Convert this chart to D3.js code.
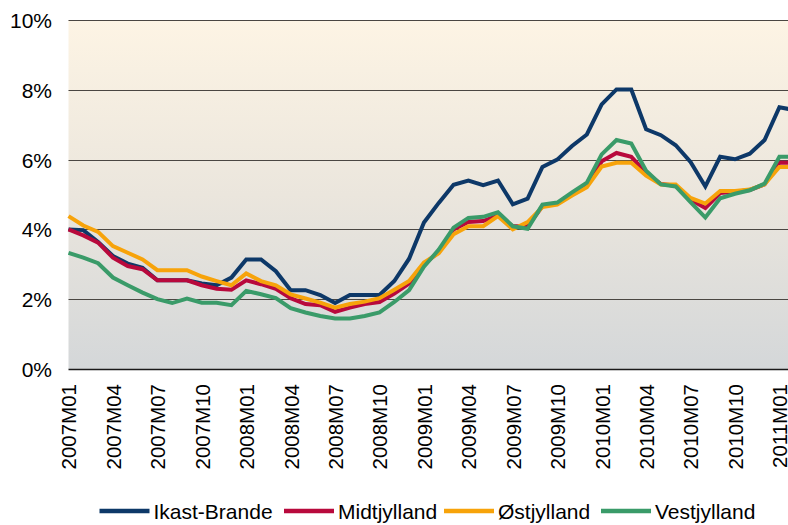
<!DOCTYPE html>
<html>
<head>
<meta charset="utf-8">
<script src="https://cdn.jsdelivr.net/npm/d3@7"></script>
<style>
  html, body { margin: 0; padding: 0; background: #ffffff; }
  svg { display: block; }
  text { font-family: "Liberation Sans", Arial, sans-serif; fill: #000; }
</style>
</head>
<body>
<svg id="chart" width="788" height="525"></svg>
<script>
// Months 2007M01 .. 2011M02
const startYear = 2007;
const months = d3.range(50).map(i => {
  const yr = startYear + Math.floor(i / 12);
  const m = (i % 12) + 1;
  return yr + "M" + (m < 10 ? "0" + m : m);
});
const tickLabels = months.filter((d, i) => i % 3 === 0 && i <= 48);
const yTicks = [0, 2, 4, 6, 8, 10];

const ikastBrande = [4.00, 3.98, 3.64, 3.24, 3.02, 2.90, 2.54, 2.54, 2.54, 2.45, 2.40, 2.62,
  3.14, 3.14, 2.80, 2.26, 2.26, 2.12, 1.89, 2.12, 2.12, 2.12, 2.52, 3.16,
  4.20, 4.76, 5.28, 5.40, 5.27, 5.40, 4.72, 4.88, 5.79, 6.00, 6.39, 6.72,
  7.58, 8.01, 8.01, 6.87, 6.70, 6.41, 5.93, 5.23, 6.08, 6.01, 6.17, 6.56,
  7.50, 7.42];
const midtjylland = [4.00, 3.83, 3.62, 3.19, 2.95, 2.86, 2.54, 2.54, 2.54, 2.40, 2.30, 2.27,
  2.54, 2.43, 2.30, 2.03, 1.86, 1.83, 1.64, 1.76, 1.86, 1.92, 2.16, 2.45,
  3.00, 3.35, 4.00, 4.21, 4.24, 4.40, 4.09, 4.09, 4.66, 4.74, 5.02, 5.27,
  5.95, 6.19, 6.08, 5.62, 5.30, 5.25, 4.85, 4.61, 5.04, 5.08, 5.13, 5.29,
  5.91, 5.91];
const ostjylland = [4.38, 4.11, 3.93, 3.52, 3.33, 3.14, 2.83, 2.83, 2.83, 2.65, 2.52, 2.40,
  2.74, 2.52, 2.40, 2.14, 2.02, 1.90, 1.76, 1.86, 1.93, 2.03, 2.27, 2.52,
  3.05, 3.32, 3.86, 4.09, 4.09, 4.38, 4.00, 4.21, 4.64, 4.71, 4.97, 5.21,
  5.80, 5.91, 5.91, 5.54, 5.29, 5.29, 4.90, 4.74, 5.10, 5.10, 5.14, 5.29,
  5.79, 5.79];
const vestjylland = [3.33, 3.19, 3.03, 2.62, 2.40, 2.19, 2.00, 1.89, 2.02, 1.90, 1.90, 1.83,
  2.24, 2.14, 2.03, 1.74, 1.62, 1.52, 1.45, 1.45, 1.52, 1.62, 1.92, 2.26,
  2.93, 3.42, 4.05, 4.33, 4.36, 4.49, 4.09, 4.02, 4.71, 4.77, 5.06, 5.34,
  6.15, 6.56, 6.46, 5.68, 5.29, 5.23, 4.78, 4.34, 4.89, 5.02, 5.12, 5.31,
  6.08, 6.08];

const seriesNames = ["Ikast-Brande", "Midtjylland", "Østjylland", "Vestjylland"];
const seriesValues = [ikastBrande, midtjylland, ostjylland, vestjylland];
const seriesColors = ["#0d3868", "#b8093c", "#f7a30a", "#3a9b69"];

(function () {
  const svg = d3.select("#chart");
  const W = 788;
  const pl = 68.5, pr = 794.2, pt = 20, pb = 369;

  const x = d3.scalePoint().domain(months).range([pl, pr]);
  const y = d3.scaleLinear().domain([0, 10]).range([pb, pt]);

  const defs = svg.append("defs");
  const grad = defs.append("linearGradient").attr("id", "bg")
    .attr("x1", 0).attr("y1", 0).attr("x2", 0).attr("y2", 1);
  grad.append("stop").attr("offset", "0%").attr("stop-color", "#fdf4e4");
  grad.append("stop").attr("offset", "50%").attr("stop-color", "#ebe6dd");
  grad.append("stop").attr("offset", "100%").attr("stop-color", "#d4d7d9");

  svg.append("rect")
    .attr("x", pl).attr("y", pt)
    .attr("width", W - pl).attr("height", pb - pt)
    .attr("fill", "url(#bg)");

  svg.append("g").selectAll("line").data(yTicks.filter(d => d > 0)).join("line")
    .attr("x1", pl).attr("x2", W)
    .attr("y1", d => Math.round(y(d)) + 0.5).attr("y2", d => Math.round(y(d)) + 0.5)
    .attr("stroke", "#4a4642").attr("stroke-width", 1.2);

  const yAxis = d3.axisLeft(y).tickValues(yTicks).tickFormat(d => d + "%").tickSize(0).tickPadding(0);
  const gy = svg.append("g").attr("transform", "translate(52,0)").call(yAxis);
  gy.select(".domain").remove();
  gy.selectAll("text").attr("font-size", "21px").attr("font-family", "Liberation Sans, Arial, sans-serif")
    .attr("fill", "#000").attr("dy", "0.36em");

  const line = d3.line().x((d, i) => x(months[i])).y(d => y(d));
  const clip = defs.append("clipPath").attr("id", "clip");
  clip.append("rect").attr("x", 0).attr("y", 0).attr("width", W).attr("height", 525);

  svg.append("g").attr("clip-path", "url(#clip)")
    .selectAll("path").data(seriesValues).join("path")
    .attr("d", d => line(d))
    .attr("fill", "none")
    .attr("stroke", (d, i) => seriesColors[i])
    .attr("stroke-width", 4)
    .attr("stroke-linejoin", "miter");

  svg.append("line")
    .attr("x1", pl).attr("x2", W)
    .attr("y1", pb + 0.5).attr("y2", pb + 0.5)
    .attr("stroke", "#1a1a1a").attr("stroke-width", 1.5);

  const xAxis = d3.axisBottom(x).tickValues(tickLabels).tickSize(0).tickPadding(0);
  const gx = svg.append("g").attr("transform", "translate(0,384)").call(xAxis);
  gx.select(".domain").remove();
  gx.selectAll("text")
    .attr("font-size", "20.5px").attr("font-family", "Liberation Sans, Arial, sans-serif")
    .attr("fill", "#000")
    .attr("transform", "rotate(-90)")
    .attr("text-anchor", "end")
    .attr("x", 0).attr("y", 0).attr("dy", "0.36em");

  // legend: item start positions as laid out in the reference
  const legendX = [99.5, 284, 444, 601];
  const legend = svg.append("g").attr("transform", "translate(0,511)");
  seriesNames.forEach((name, i) => {
    const cx = legendX[i];
    const g = legend.append("g");
    g.append("line").attr("x1", cx).attr("x2", cx + 50).attr("y1", 0).attr("y2", 0)
      .attr("stroke", seriesColors[i]).attr("stroke-width", 4.5);
    g.append("text").attr("x", cx + 54).attr("y", 0).attr("dy", "0.36em")
      .attr("font-size", "21px").text(name);
  });
})();
</script>
</body>
</html>
